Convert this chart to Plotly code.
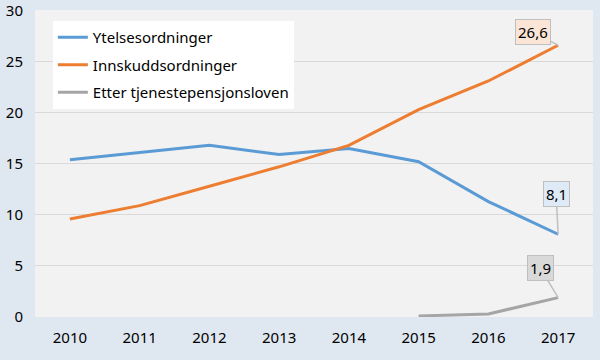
import plotly.graph_objects as go

years = ["2010", "2011", "2012", "2013", "2014", "2015", "2016", "2017"]
ytelse = [15.4, 16.1, 16.8, 15.9, 16.5, 15.2, 11.3, 8.1]
innskudd = [9.6, 10.9, 12.8, 14.7, 16.8, 20.3, 23.1, 26.6]
etter = [None, None, None, None, None, 0.1, 0.3, 1.9]
series_names = ["Ytelsesordninger", "Innskuddsordninger", "Etter tjenestepensjonsloven"]
colors = ["#5b9bd5", "#ed7d31", "#a5a5a5"]
label_fill = ["#deebf7", "#fbe5d6", "#d9d9d9"]

fig = go.Figure()
for i, (name, vals) in enumerate(zip(series_names, [ytelse, innskudd, etter])):
    fig.add_trace(go.Scatter(x=years, y=vals, name=name, mode="lines",
                             line=dict(color=colors[i], width=3),
                             legendgroup=str(i), hoverinfo="skip"))

# data labels on last points
last_idx = len(years) - 1
for i, vals in enumerate([ytelse, innskudd, etter]):
    v = vals[-1]
    ox, oy = [(-2, -40), (-25, -13), (-18, -30)][i]
    fig.add_annotation(x=last_idx, y=v, text=f"{v:.1f}".replace(".", ","),
                       showarrow=True, arrowhead=0, arrowwidth=1.5,
                       arrowcolor="#bfbfbf", ax=ox, ay=oy,
                       bgcolor=label_fill[i], bordercolor="#bfbfbf", borderwidth=1,
                       borderpad=2, font=dict(size=15, color="#000000",
                                              family="Noto Sans"))

fig.update_layout(
    width=600, height=360,
    margin=dict(l=35, r=7, t=10, b=43),
    paper_bgcolor="#dfe7f1",
    plot_bgcolor="#f2f2f2",
    font=dict(family="Noto Sans", size=15, color="#000000"),
    legend=dict(x=0.032, y=0.964, xanchor="left", yanchor="top",
                bgcolor="#ffffff", borderwidth=0, tracegroupgap=5,
                font=dict(size=15), itemwidth=30),
    showlegend=True,
)
fig.update_xaxes(type="category", range=[-0.5, 7.5], showgrid=False, ticks="",
                 tickfont=dict(size=15), zeroline=False, automargin=False,
                 ticklabelstandoff=10)
fig.update_yaxes(range=[0, 30.05], dtick=5, showgrid=True, gridcolor="#d9d9d9",
                 zeroline=False, tickfont=dict(size=15), ticks="", automargin=False,
                 ticklabeloverflow="allow", ticklabelstandoff=11)

fig.write_html("out.html", config={"displayModeBar": False},
               post_script="document.body.style.margin='0';document.body.style.background='#dfe7f1';")
